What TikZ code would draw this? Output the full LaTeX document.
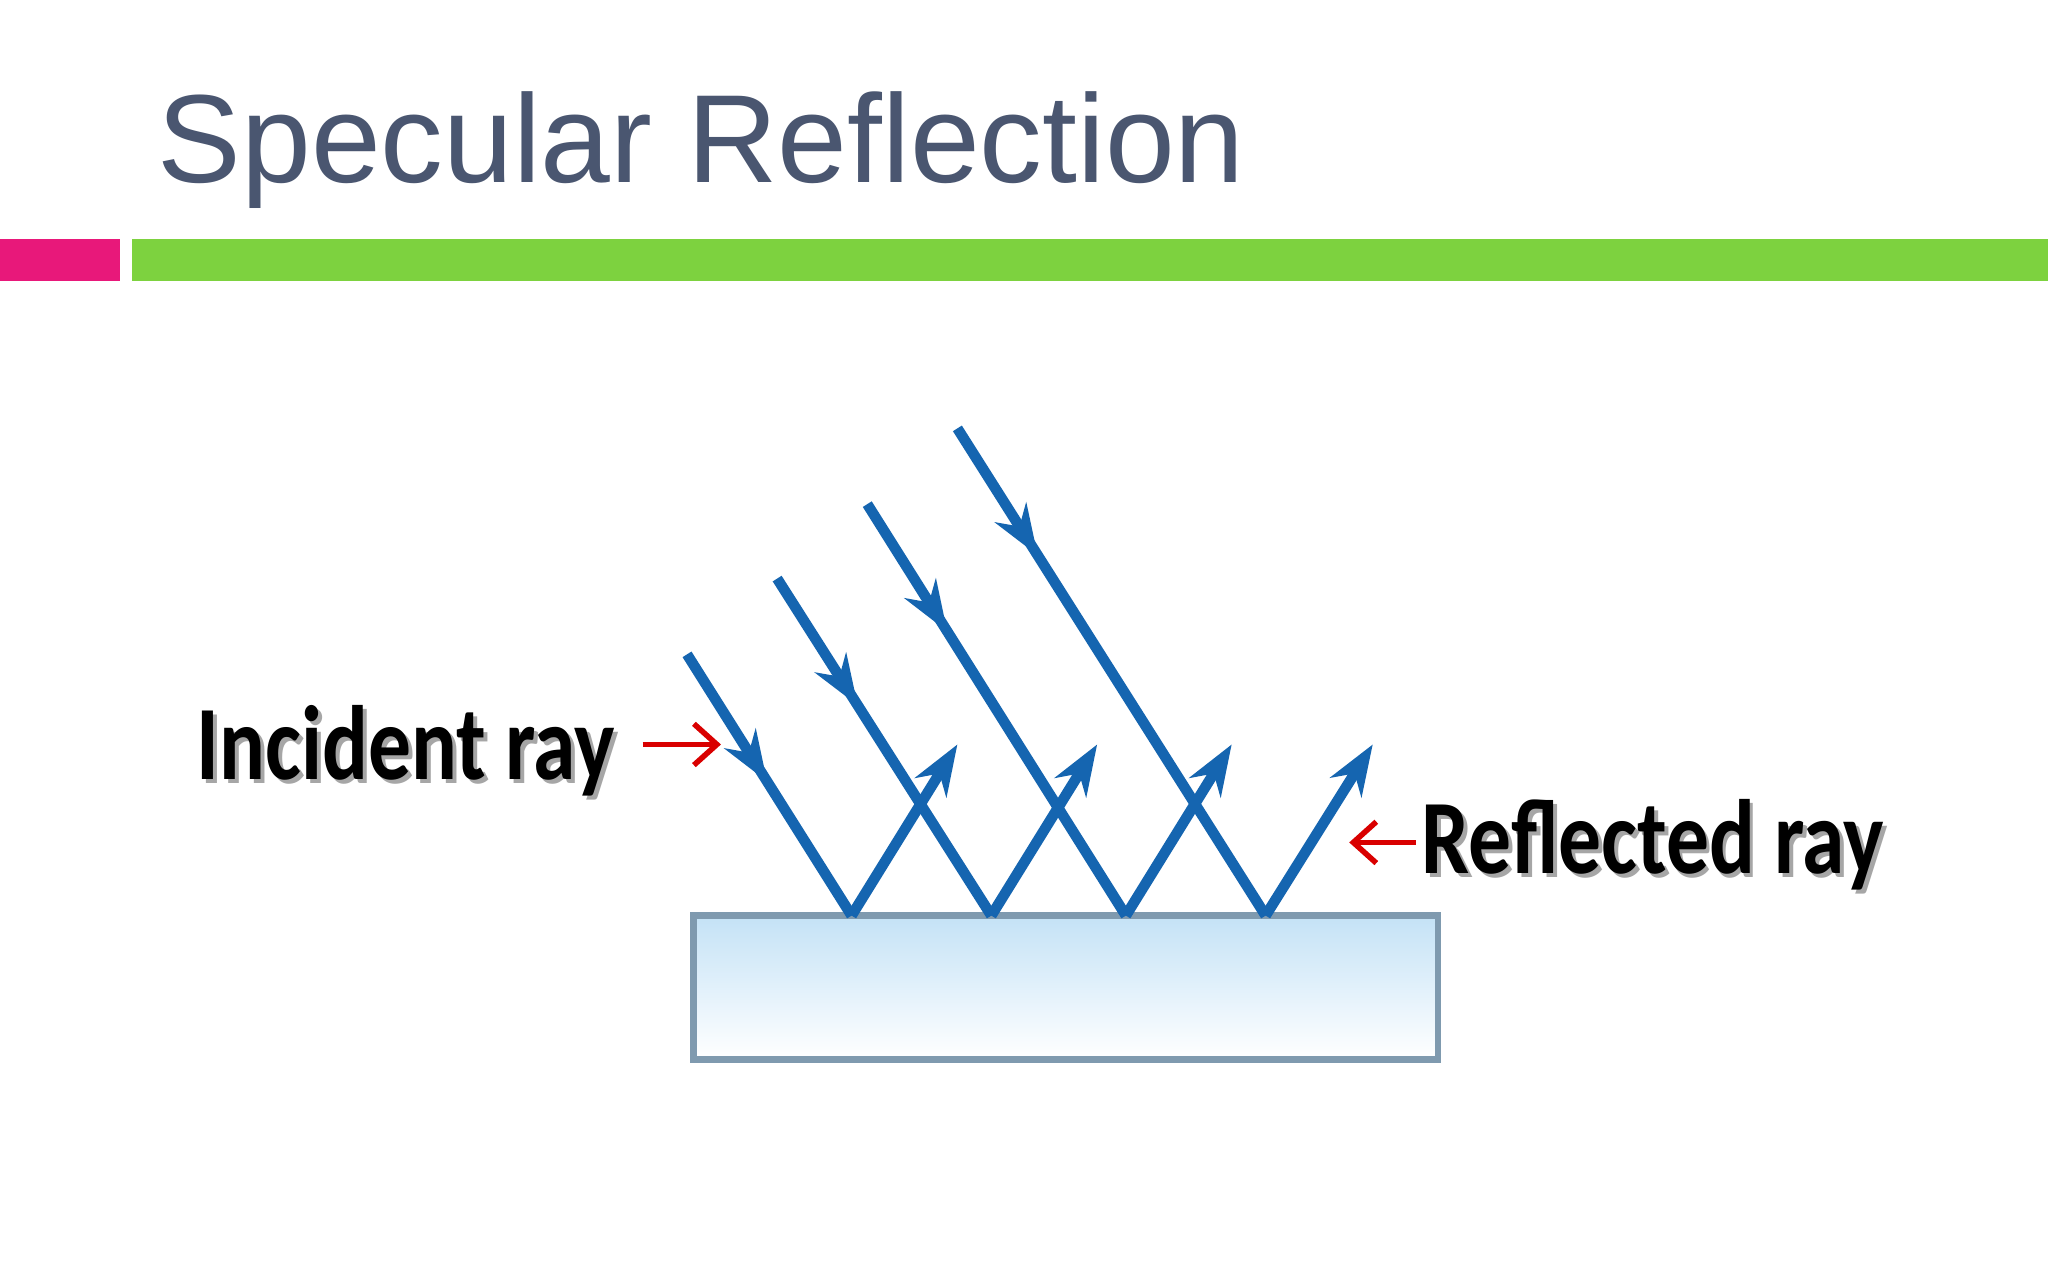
\documentclass[tikz,border=0pt]{standalone}
\usepackage{fontspec}
\setmainfont{Liberation Sans}
\newfontfamily\calib{Carlito}
\usetikzlibrary{decorations.markings,arrows.meta}
\definecolor{titlec}{HTML}{4A5670}
\definecolor{pinkc}{HTML}{E8187A}
\definecolor{greenc}{HTML}{7DD23F}
\definecolor{rayc}{HTML}{1565B0}
\definecolor{boxc}{HTML}{7F9AAF}
\definecolor{boxtop}{HTML}{C4E2F6}
\tikzset{
 inc/.style={draw=rayc,line width=2.3pt,postaction={decorate},decoration={markings,mark=at position 1.15cm with {\arrow{Stealth[length=11pt,width=8pt]}}}},
 refl/.style={draw=rayc,line width=2.3pt,-{Stealth[length=11pt,width=8pt]}},
 lab/.style={font=\calib\bfseries\fontsize{23}{26}\selectfont,anchor=west,inner sep=0,xscale=0.81},
 redar/.style={draw=red!85!black,line width=1.2pt,-{Straight Barb[length=5pt,width=9pt]}}
}
\begin{document}
\begin{tikzpicture}[x=0.01cm,y=-0.01cm]
\useasboundingbox (0,0) rectangle (1568,980);
\fill[white] (0,0) rectangle (1568,980);
\node[anchor=base west,inner sep=0,text=titlec,font=\fontsize{27.3}{32}\selectfont] (title) at (120,140) {Specular Reflection};
\fill[pinkc] (0,183) rectangle (92,215);
\fill[greenc] (101,183) rectangle (1568,215);
\shade[top color=boxtop,bottom color=white] (531,701) rectangle (1101,811);
\draw[boxc,line width=1.5pt] (531,701) rectangle (1101,811);
\coordinate (s1) at (526,501); \coordinate (s2) at (595,443);
\coordinate (s3) at (664,386); \coordinate (s4) at (733,328);
\coordinate (b1) at (652,701); \coordinate (b2) at (759,701);
\coordinate (b3) at (862,701); \coordinate (b4) at (969,701);
\coordinate (e1) at (733,570); \coordinate (e2) at (840,570);
\coordinate (e3) at (943,570); \coordinate (e4) at (1051,570);
\foreach \i in {1,2,3,4}{
 \path[inc] (s\i) -- (b\i);
 \path[refl] (b\i) -- (e\i);
}
\node[lab,text=black!35] at (153,578) {Incident ray};
\node[lab] (il) at (150,575) {Incident ray};
\node[lab,text=black!35] at (1091,650) {Reflected ray};
\node[lab] (rl) at (1088,647) {Reflected ray};
\coordinate (ia) at (492,570); \coordinate (ib) at (552,570);
\coordinate (ra) at (1084,645); \coordinate (rb) at (1033,645);
\draw[redar] (ia) -- (ib);
\draw[redar] (ra) -- (rb);
\end{tikzpicture}
\end{document}
